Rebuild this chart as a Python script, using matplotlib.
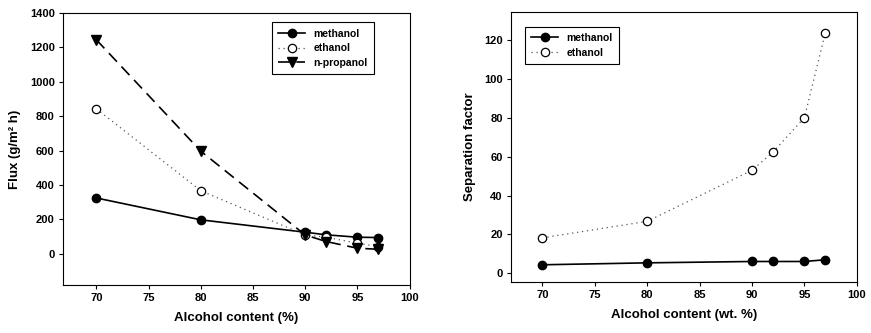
import matplotlib
matplotlib.use('Agg')
import matplotlib.pyplot as plt

# Data
alcohol = [70, 80, 90, 92, 95, 97]

flux_methanol = [325, 198, 126, 111, 97, 95]
flux_ethanol = [843, 367, 110, 97, 62, 43]
flux_propanol = [1244, 597, 110, 72, 33, 27]

sep_methanol = [4.3, 5.3, 6.0, 6.0, 6.0, 6.9]
sep_ethanol = [18.2, 26.7, 53.0, 62.4, 80.1, 124.0]

flux_ticks = [0, 200, 400, 600, 800, 1000, 1200, 1400]
sep_ticks = [0, 20, 40, 60, 80, 100, 120]
x_ticks = [70, 75, 80, 85, 90, 95, 100]

plt.rcParams.update({
    'font.family': ['Liberation Sans', 'DejaVu Sans'],
    'font.weight': 'bold',
    'font.size': 8,
    'axes.linewidth': 0.8,
    'xtick.direction': 'out',
    'ytick.direction': 'out',
    'xtick.major.size': 3,
    'ytick.major.size': 3,
    'xtick.major.width': 0.8,
    'ytick.major.width': 0.8,
})

fig = plt.figure(figsize=(8.71, 3.33), dpi=100)
ax1 = fig.add_axes([0.0723, 0.144, 0.398, 0.817])
ax2 = fig.add_axes([0.5867, 0.153, 0.397, 0.811])


def style_axes(ax):
    ax.tick_params(top=False, right=False, labelsize=8, pad=3)
    for lab in ax.get_xticklabels() + ax.get_yticklabels():
        lab.set_fontweight('bold')


# Left panel: flux
ax1.plot(alcohol, flux_methanol, color='black', linestyle='-', linewidth=1.2,
         marker='o', markersize=6, markerfacecolor='black', label='methanol')
ax1.plot(alcohol, flux_ethanol, color='#555555', linestyle=(0, (1, 3)), linewidth=0.9,
         marker='o', markersize=6, markerfacecolor='white', markeredgecolor='black',
         markeredgewidth=0.9, label='ethanol')
ax1.plot(alcohol, flux_propanol, color='black', linestyle=(0, (7, 4)), linewidth=1.2,
         marker='v', markersize=6.5, markerfacecolor='black', label='n-propanol')
ax1.set_xlim(66.8, 100)
ax1.set_ylim(-181, 1400)
ax1.set_xticks(x_ticks)
ax1.set_yticks(flux_ticks)
ax1.set_xlabel('Alcohol content (%)', fontsize=9.5, fontweight='bold', labelpad=6)
ax1.set_ylabel('Flux (g/m² h)', fontsize=9.5, fontweight='bold', labelpad=6)
style_axes(ax1)
leg1 = ax1.legend(loc='upper right', bbox_to_anchor=(0.912, 0.985), fancybox=False,
                  edgecolor='black', framealpha=1, fontsize=7.5, handlelength=2.6,
                  borderpad=0.6, labelspacing=0.45)
leg1.get_frame().set_linewidth(0.8)
for t in leg1.get_texts():
    t.set_fontweight('bold')

# Right panel: separation factor
ax2.plot(alcohol, sep_methanol, color='black', linestyle='-', linewidth=1.2,
         marker='o', markersize=6, markerfacecolor='black', label='methanol')
ax2.plot(alcohol, sep_ethanol, color='#555555', linestyle=(0, (1, 3)), linewidth=0.9,
         marker='o', markersize=6, markerfacecolor='white', markeredgecolor='black',
         markeredgewidth=0.9, label='ethanol')
ax2.set_xlim(67, 100)
ax2.set_ylim(-4.6, 134.6)
ax2.set_xticks(x_ticks)
ax2.set_yticks(sep_ticks)
ax2.set_xlabel('Alcohol content (wt. %)', fontsize=9.5, fontweight='bold', labelpad=6)
ax2.set_ylabel('Separation factor', fontsize=9.5, fontweight='bold', labelpad=6)
style_axes(ax2)
leg2 = ax2.legend(loc='upper left', bbox_to_anchor=(0.025, 0.965), fancybox=False,
                  edgecolor='black', framealpha=1, fontsize=7.5, handlelength=2.6,
                  borderpad=0.6, labelspacing=0.45)
leg2.get_frame().set_linewidth(0.8)
for t in leg2.get_texts():
    t.set_fontweight('bold')

fig.savefig('out.png', dpi=100)
plt.close(fig)
